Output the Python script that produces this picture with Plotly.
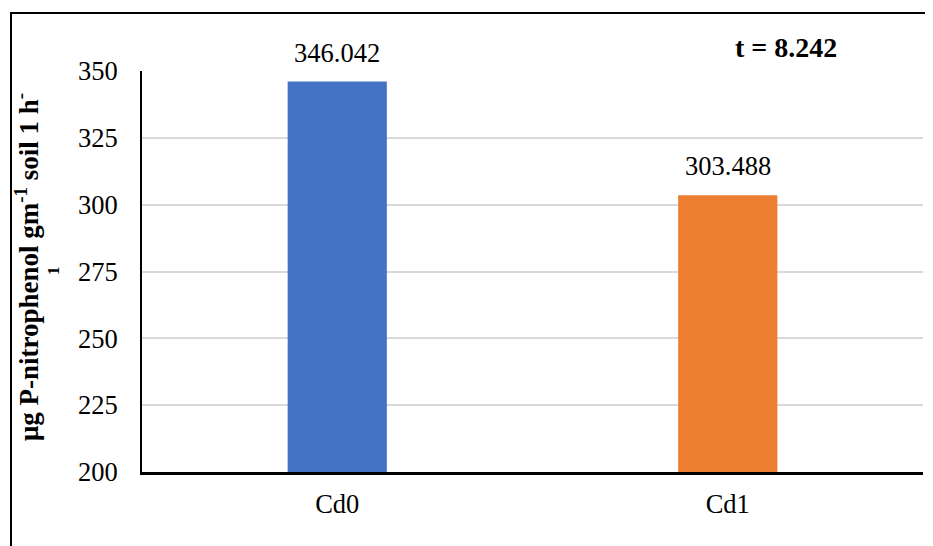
import plotly.graph_objects as go

categories = ["Cd0", "Cd1"]
values = [346.042, 303.488]
bar_colors = ["#4472C4", "#ED7D31"]
value_labels = ["346.042", "303.488"]
y_ticks = [200, 225, 250, 275, 300, 325, 350]
t_text = "t = 8.242"
y_title = "μg P-nitrophenol gm<sup>-1</sup> soil 1 h<sup>-</sup>"
y_title_wrap = "1"

SERIF = "Liberation Serif, Times New Roman, serif"
tick_font = dict(family=SERIF, size=26.5, color="#000000")

# page body has an 8px margin; compensate so the plot sits where the reference has it
OFF = 8
W, H = 933 - OFF, 546 - OFF
PL, PR, PT, PB = 142, 923, 71, 472  # plot area in page pixels
L, R, T, B = PL - OFF, 933 - PR, PT - OFF, 546 - PB
pw, ph = PR - PL, PB - PT

def px(x):
    return (x - PL) / pw

def py(y):
    return (PB - y) / ph

fig = go.Figure()
fig.add_trace(go.Bar(
    x=categories, y=values, marker=dict(color=bar_colors, line=dict(width=0)),
    width=0.254, hoverinfo="skip",
))

annotations = []
for c, v, lab in zip(categories, values, value_labels):
    annotations.append(dict(text=lab, x=c, y=v, xref="x", yref="y", xanchor="center",
                            yanchor="middle", yshift=29, showarrow=False, font=tick_font))
annotations += [
    dict(text="<b>" + t_text + "</b>", xref="paper", yref="paper", x=px(786), y=py(48),
         xanchor="center", yanchor="middle",
         showarrow=False, font=dict(family=SERIF, size=28, color="black")),
    dict(text="<b>" + y_title + "</b>", xref="paper", yref="paper", x=px(27), y=py(267),
         xanchor="center", yanchor="middle",
         textangle=-90, showarrow=False,
         font=dict(family=SERIF, size=27, color="black")),
    dict(text="<b>" + y_title_wrap + "</b>", xref="paper", yref="paper", x=px(53), y=py(271),
         xanchor="center", yanchor="middle",
         textangle=-90, showarrow=False,
         font=dict(family=SERIF, size=17, color="black")),
]

fig.update_layout(
    width=W, height=H,
    margin=dict(l=L, r=R, t=T, b=B),
    plot_bgcolor="white", paper_bgcolor="white",
    showlegend=False,
    xaxis=dict(showline=True, linecolor="black", linewidth=2.5, tickfont=tick_font,
               ticks="", showgrid=False, ticklabelstandoff=6),
    yaxis=dict(range=[200, 350], tickvals=y_ticks, showline=True, linecolor="black",
               linewidth=2, showgrid=True, gridcolor="#d9d9d9", gridwidth=1.5,
               tickfont=tick_font, ticks="", zeroline=False, ticklabelstandoff=17),
    shapes=[dict(type="rect", xref="paper", yref="paper",
                 x0=px(11), x1=px(1000), y0=py(13), y1=py(600),
                 line=dict(color="black", width=2), fillcolor="rgba(0,0,0,0)", layer="below")],
    annotations=annotations,
)

fig.write_html("out.html")
